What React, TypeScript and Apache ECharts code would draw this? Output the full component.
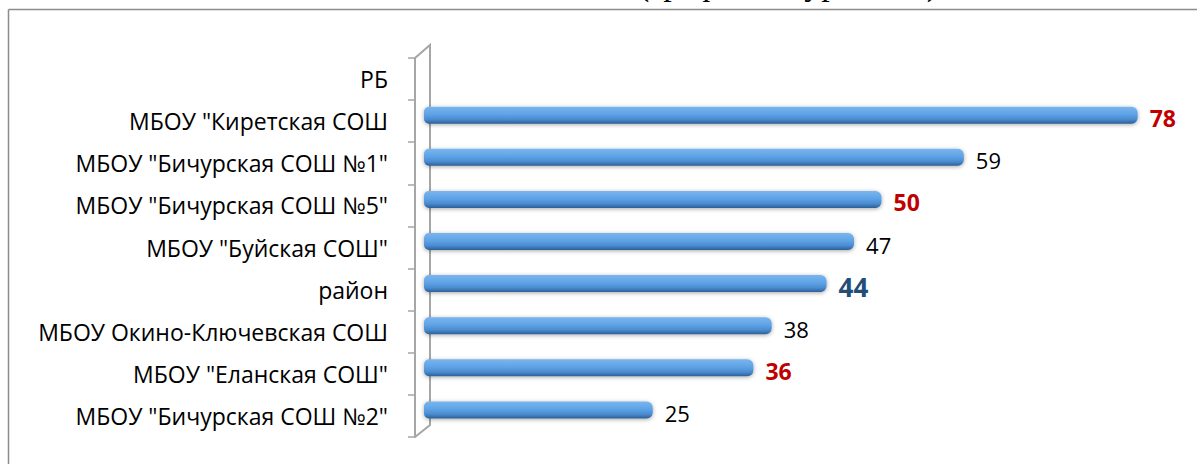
import React, { useEffect, useRef } from "react";
import * as echarts from "echarts";

const categories = [
  "РБ",
  "МБОУ \"Киретская СОШ",
  "МБОУ \"Бичурская СОШ №1\"",
  "МБОУ \"Бичурская СОШ №5\"",
  "МБОУ \"Буйская СОШ\"",
  "район",
  "МБОУ Окино-Ключевская СОШ",
  "МБОУ \"Еланская СОШ\"",
  "МБОУ \"Бичурская СОШ №2\"",
];
const values: (number | null)[] = [null, 78, 59, 50, 47, 44, 38, 36, 25];
const redHighlighted = ["МБОУ \"Киретская СОШ", "МБОУ \"Бичурская СОШ №5\"", "МБОУ \"Еланская СОШ\""];
const blueHighlighted = ["район"];
const titleText = "(график по уровням)";
const valueMax = 80;

const FONT = "'Open Sans', 'Noto Sans', sans-serif";
const GRAY = "#a6a6a6";

export default function App() {
  const ref = useRef<HTMLDivElement>(null);
  useEffect(() => {
    document.body.style.margin = "0";
    if (!ref.current) return;
    const chart = echarts.init(ref.current, null, { renderer: "svg" });

    const barData = values.map((v, i) => {
      const name = categories[i];
      if (v === null) return { value: "-" as any };
      let label: any = { color: "#000000", fontSize: 22, fontWeight: "normal" };
      if (redHighlighted.includes(name)) label = { color: "#c00000", fontSize: 23, fontWeight: "bold" };
      if (blueHighlighted.includes(name)) label = { color: "#1f4e79", fontSize: 26, fontWeight: "bold" };
      return { value: v, label };
    });

    chart.setOption({
      animation: false,
      backgroundColor: "#ffffff",
      grid: [
        { left: 415, right: 41, top: 58, bottom: 27, containLabel: false },
        { left: 424, right: 41, top: 52, bottom: 33, containLabel: false },
      ],
      xAxis: [
        { type: "value", gridIndex: 0, min: 0, max: valueMax, show: false },
        { type: "value", gridIndex: 1, min: 0, max: valueMax, show: false },
      ],
      yAxis: [
        {
          type: "category",
          gridIndex: 0,
          data: categories,
          inverse: true,
          axisLine: { show: true, lineStyle: { color: GRAY, width: 2 } },
          axisTick: { show: true, length: 7, lineStyle: { color: GRAY, width: 1.5 } },
          axisLabel: {
            margin: 27,
            color: "#000000",
            fontFamily: FONT,
            fontSize: 23,
          },
          splitLine: { show: false },
        },
        {
          type: "category",
          gridIndex: 1,
          data: categories,
          inverse: true,
          show: false,
        },
      ],
      graphic: [
        {
          type: "line",
          shape: { x1: 8.5, y1: 9.5, x2: 1197, y2: 9.5 },
          style: { stroke: "#8c8c8c", lineWidth: 1.5 },
          z: 0,
        },
        {
          type: "line",
          shape: { x1: 8.5, y1: 9.5, x2: 8.5, y2: 464 },
          style: { stroke: "#8c8c8c", lineWidth: 1.5 },
          z: 0,
        },
        {
          type: "polyline",
          shape: { points: [[415, 58], [430, 45], [430, 425], [415, 437]] },
          style: { stroke: GRAY, lineWidth: 2, fill: "none" },
          z: 0,
        },
        {
          type: "text",
          x: 788,
          y: -17,
          style: {
            text: titleText,
            font: "34px 'Liberation Serif', 'Times New Roman', serif",
            fill: "#000000",
            textAlign: "center",
            textVerticalAlign: "middle",
          },
          z: 0,
        },
      ],
      series: [
        {
          type: "bar",
          xAxisIndex: 1,
          yAxisIndex: 1,
          data: barData,
          barWidth: 17,
          z: 3,
          itemStyle: {
            borderRadius: [5, 6, 6, 5],
            color: new echarts.graphic.LinearGradient(0, 0, 0, 1, [
              { offset: 0, color: "#7ab5ee" },
              { offset: 0.45, color: "#5ea3e6" },
              { offset: 0.75, color: "#4b8bd0" },
              { offset: 1, color: "#2b5f96" },
            ]),
            shadowBlur: 4,
            shadowColor: "rgba(0,0,0,0.35)",
            shadowOffsetY: 1,
          },
          label: {
            show: true,
            position: "right",
            distance: 12,
            fontFamily: FONT,
            offset: [0, 3],
            formatter: "{c}",
          },
        },
      ],
    });
    return () => chart.dispose();
  }, []);
  return <div ref={ref} style={{ width: 1197, height: 464 }} />;
}
